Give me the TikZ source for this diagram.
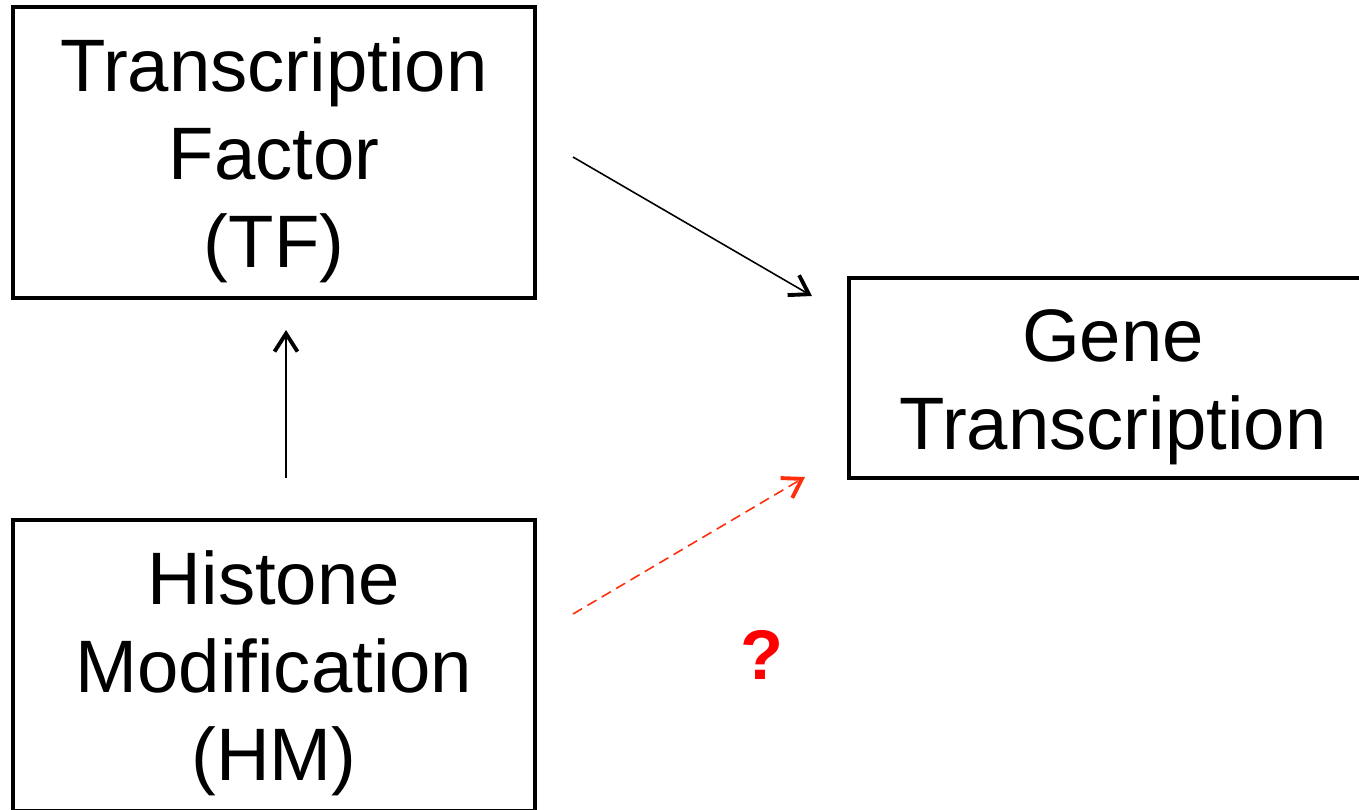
\documentclass[tikz,border=0pt]{standalone}
\usepackage{fontspec}
\setmainfont{Liberation Sans}
\usetikzlibrary{arrows.meta}
\definecolor{hmred}{RGB}{255,45,10}
\tikzset{
	factorbox/.style={draw, line width=2.3pt, align=center, inner sep=0pt,
		font=\fontsize{42.3}{50}\selectfont},
	linktip/.style={-{Straight Barb[length=3.6mm,width=4.6mm,line width=2.2pt]}, line width=0.9pt}
}

\begin{document}
\begin{tikzpicture}
			%%%%% START %%%%%
			
			\useasboundingbox (0, 0) rectangle (27.18, -16.18);
			\clip (0, 0) rectangle (27.18, -16.18);
			
			\node[factorbox, minimum width=10.44cm, minimum height=5.82cm] (tf) at (5.48, -3.05) {\rule{0pt}{1.4cm}Transcription\\Factor\\(TF)};
			\node[factorbox, minimum width=10.56cm, minimum height=4.0cm] (gene) at (22.26, -7.56) {\rule{0pt}{1.4cm}Gene\\Transcription};
			\node[factorbox, minimum width=10.44cm, minimum height=5.82cm] (hm) at (5.48, -13.31) {\rule{0pt}{1.4cm}Histone\\Modification\\(HM)};
			
			\coordinate (tfout) at (11.46, -3.14);
			\coordinate (genein) at (16.24, -5.92);
			\coordinate (hmup) at (5.72, -9.56);
			\coordinate (tfin) at (5.72, -6.60);
			\coordinate (hmout) at (11.46, -12.28);
			\coordinate (geneq) at (16.10, -9.54);
			
			\draw[linktip] (tfout) -- (genein);
			\draw[linktip] (hmup) -- (tfin);
			\draw[linktip, color=hmred, dash pattern=on 6pt off 3.5pt] (hmout) -- (geneq);
			
			\node[color=red, font=\bfseries\fontsize{40}{48}\selectfont] (ask) at (15.24, -13.10) {?};
			
			%%%%% END %%%%%
\end{tikzpicture}
\end{document}
